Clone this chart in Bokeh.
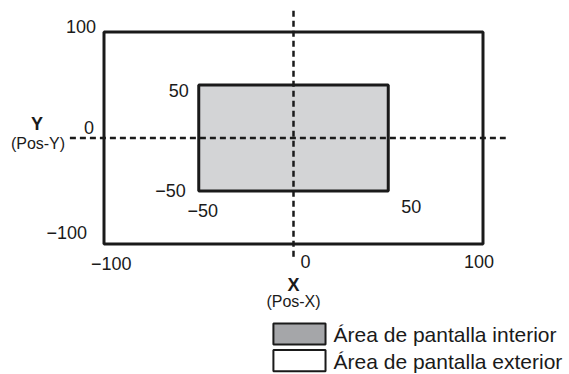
from bokeh.plotting import figure
from bokeh.models import Range1d
from bokeh.core.properties import value
from bokeh.embed import file_html
from bokeh.resources import INLINE

# ---- data ----
outer_rect = [-100, 100, -100, 100]     # left, right, bottom, top
inner_rect = [-50, 50, -50, 50]
outer_ticks = ["100", "\u2212100", "\u2212100", "100"]
inner_ticks = ["50", "\u221250", "\u221250", "50"]
origin_label = "0"
x_title = "X"
x_sub = "(Pos-X)"
y_title = "Y"
y_sub = "(Pos-Y)"
legend_labels = ["\u00c1rea de pantalla interior", "\u00c1rea de pantalla exterior"]
legend_fills = ["#a5a6a9", "#ffffff"]
inner_fill = "#d3d4d6"

# ---- layout ----
W, H = 569, 374
sx, sy = 1.895, 1.06          # px per unit
ox, oy = 293.0, 137.5         # canvas px of the origin
FONT = value("Liberation Sans")

p = figure(width=W, height=H, output_backend="svg", toolbar_location=None,
           x_range=Range1d(-ox / sx, (W - ox) / sx),
           y_range=Range1d(-(H - oy) / sy, oy / sy),
           min_border=0, outline_line_color=None)
p.axis.visible = False
p.grid.visible = False
p.background_fill_color = "white"
p.border_fill_color = "white"

ol, orr, ob, ot = outer_rect
il, ir, ib, it = inner_rect

# outer & inner areas
p.quad(left=[ol], right=[orr], bottom=[ob], top=[ot], fill_color="white",
       line_color="#1a1a1a", line_width=3)
p.quad(left=[il], right=[ir], bottom=[ib], top=[it], fill_color=inner_fill,
       line_color="#1a1a1a", line_width=3)

# dashed axes through origin
p.segment(x0=[-118], y0=[0], x1=[112], y1=[0], line_color="#1a1a1a",
          line_width=2.5, line_dash="6 4")
p.segment(x0=[0], y0=[120], x1=[0], y1=[-114], line_color="#1a1a1a",
          line_width=2.5, line_dash="6 4")

def txt(x, y, t, dx, dy, align, size="18px", style="normal"):
    p.text(x=[x], y=[y], text=[t], x_offset=dx, y_offset=dy, text_align=align,
           text_baseline="middle", text_font=FONT, text_font_size=size,
           text_font_style=style, text_color="#1a1a1a")

# outer tick labels
txt(ol, ot, outer_ticks[0], -8, -6, "right")
txt(ol, ob, outer_ticks[1], -17, -12, "right")
txt(ol, ob, outer_ticks[2], -13, 19, "left")
txt(orr, ob, outer_ticks[3], -4, 17, "center")
# inner tick labels
txt(il, it, inner_ticks[0], -10, 5, "right")
txt(il, ib, inner_ticks[1], -13, -1, "right")
txt(il, ib, inner_ticks[2], 4, 19, "center")
txt(ir, ib, inner_ticks[3], 23, 15, "center")
# origin labels
txt(0, ob, origin_label, 7, 17, "left")
txt(ol, 0, origin_label, -15, -11, "center")
# axis titles
txt(ol, 0, y_title, -67, -14, "center", "18px", "bold")
txt(ol, 0, y_sub, -66, 5, "center", "16px")
txt(0, ob, x_title, 0, 41, "center", "18px", "bold")
txt(0, ob, x_sub, 0, 57, "center", "16px")

# legend
leg_x = [-10.6, 16.9]
leg_tops = [-175.0, -200.0]
leg_bots = [-194.8, -220.0]
p.quad(left=[leg_x[0]] * 2, right=[leg_x[1]] * 2, bottom=leg_bots, top=leg_tops,
       fill_color=legend_fills, line_color="#1a1a1a", line_width=2)
for lab, t, b in zip(legend_labels, leg_tops, leg_bots):
    p.text(x=[leg_x[1]], y=[(t + b) / 2], text=[lab], x_offset=8, y_offset=1,
           text_align="left", text_baseline="middle", text_font=FONT,
           text_font_size="21px", text_color="#1a1a1a")

open("out.html", "w").write(file_html(p, INLINE))
